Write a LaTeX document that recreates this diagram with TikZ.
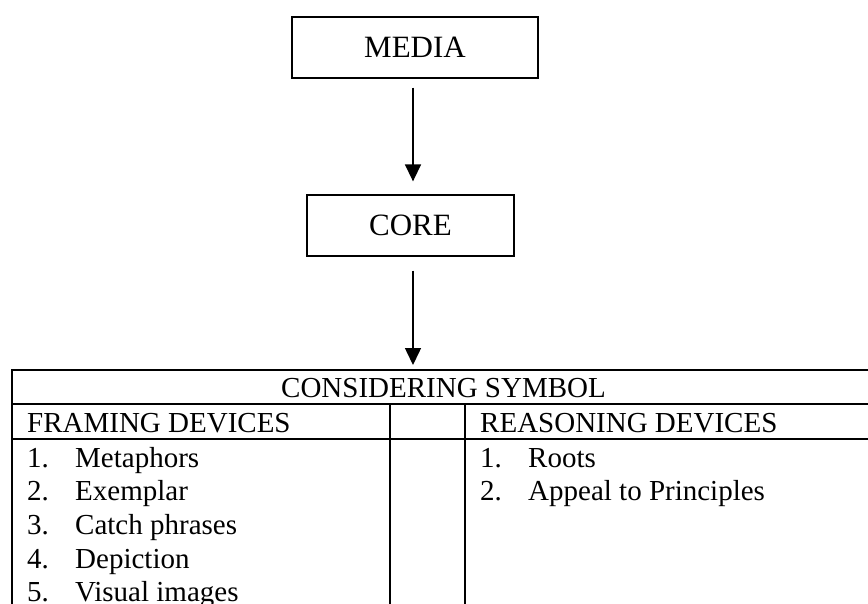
\documentclass[tikz,border=0pt]{standalone}
\usepackage{fontspec}
\setmainfont{Liberation Serif}
\usetikzlibrary{arrows.meta}
\tikzset{
  boxnode/.style={draw, line width=1.3pt, inner sep=0pt, font=\fontsize{31}{36}\selectfont},
  flowarrow/.style={line width=1.5pt, -{Triangle[length=17pt,width=16pt]}},
  rule/.style={line width=1.5pt},
  celltext/.style={anchor=base west, inner sep=0pt, font=\fontsize{29}{34}\selectfont},
  headtext/.style={anchor=base, inner sep=0pt, font=\fontsize{29}{34}\selectfont}
}
\begin{document}
\begin{tikzpicture}[x=1pt, y=-1pt]
\useasboundingbox (0,0) rectangle (868,603);
\clip (0,0) rectangle (868,603);

% boxes
\node[boxnode, minimum width=246pt, minimum height=61pt] (media) at (415,47.5) {MEDIA};
\node[boxnode, minimum width=207pt, minimum height=61pt] (core) at (410.5,225.5) {CORE};

% table outline and rules
\coordinate (ax) at (413,0);
\coordinate (ttop) at (413,370);
\draw[rule] (12,640) -- (12,370) -- (875,370) -- (875,640);
\draw[rule] (12,404) -- (875,404);
\draw[rule] (12,439) -- (875,439);
\draw[rule] (390,404) -- (390,640);
\draw[rule] (465,404) -- (465,640);

% connectors
\draw[flowarrow, shorten <=9pt, shorten >=13pt] (media.south -| ax) -- (core.north -| ax);
\draw[flowarrow, shorten <=14pt, shorten >=5pt] (core.south -| ax) -- (ttop);

% headers
\node[headtext] (hsym) at (443.5,397) {CONSIDERING SYMBOL};
\node[celltext] (hframe) at (27,432) {FRAMING DEVICES};
\node[celltext] (hreason) at (480,432) {REASONING DEVICES};

% framing devices
\node[celltext] (f1n) at (27,467) {1.};   \node[celltext] (f1) at (75,467) {Metaphors};
\node[celltext] (f2n) at (27,500.5) {2.}; \node[celltext] (f2) at (75,500.5) {Exemplar};
\node[celltext] (f3n) at (27,534) {3.};   \node[celltext] (f3) at (75,534) {Catch phrases};
\node[celltext] (f4n) at (27,568) {4.};   \node[celltext] (f4) at (75,568) {Depiction};
\node[celltext] (f5n) at (27,601.5) {5.}; \node[celltext] (f5) at (75,601.5) {Visual images};

% reasoning devices
\node[celltext] (r1n) at (480,467) {1.};   \node[celltext] (r1) at (528,467) {Roots};
\node[celltext] (r2n) at (480,500.5) {2.}; \node[celltext] (r2) at (528,500.5) {Appeal to Principles};
\end{tikzpicture}
\end{document}
